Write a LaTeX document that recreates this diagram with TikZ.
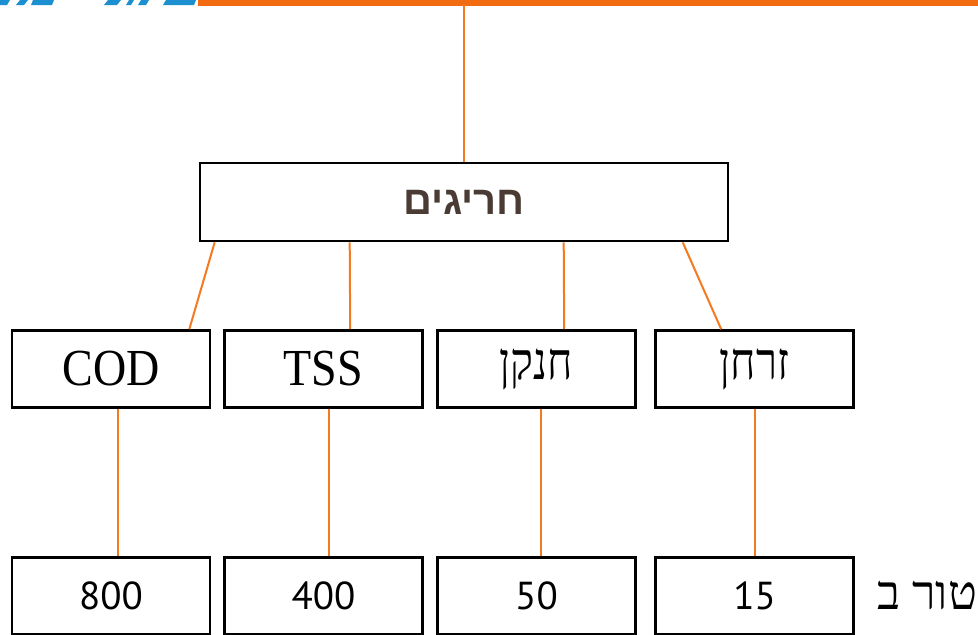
\documentclass[tikz,border=0pt]{standalone}
\usepackage{fontspec}
\usetikzlibrary{calc}
\TeXXeTstate=1
\setmainfont{Liberation Serif}
\newfontfamily\hebserif[Script=Hebrew]{Liberation Serif}
\newfontfamily\hebsans[Script=Hebrew]{Liberation Sans}
\newfontfamily\numfont{PT Sans}
\definecolor{conn}{HTML}{F47A20}
\definecolor{barorange}{HTML}{F26B10}
\definecolor{titlebrown}{HTML}{4A3B35}
\definecolor{logoblue}{HTML}{1B8FD0}
\newcommand{\tallA}[1]{\scalebox{1}[1.13]{#1}}
\newcommand{\tallH}[1]{\scalebox{0.93}[1.13]{#1}}
\tikzset{
  box/.style={draw=black, line width=2.6pt, fill=white, inner sep=0pt, minimum height=77pt},
  midbox/.style={box, minimum width=198pt, font=\fontsize{46}{50}\selectfont},
  numbox/.style={box, minimum width=198pt, font=\numfont\fontsize{39}{42}\selectfont},
  link/.style={draw=conn, line width=2pt},
}
\begin{document}
\begin{tikzpicture}[x=1pt,y=-1pt]
\useasboundingbox (0,0) rectangle (978,635);
% top bar and logo fragments
\fill[barorange] (198,0) rectangle (978,5.5);
\fill[logoblue] (0,0) -- (10,0) -- (7,5) -- (0,5) -- cycle;
\fill[logoblue] (20,0) -- (28,0) -- (24,5) -- (16,5) -- cycle;
\fill[logoblue] (33,0) -- (54,0) -- (52,5) -- (31,5) -- cycle;
\fill[logoblue] (108,0) -- (121,0) -- (117,5) -- (104,5) -- cycle;
\fill[logoblue] (129,0) -- (134,0) -- (131,5) -- (126,5) -- cycle;
\fill[logoblue] (141,0) -- (149,0) -- (146,5) -- (138,5) -- cycle;
\fill[logoblue] (166,0) -- (196,0) -- (194,5) -- (163,5) -- cycle;
\coordinate (top) at (464,5);
% central box
\node[box, minimum width=528pt, minimum height=78pt, font=\hebsans\bfseries\fontsize{40}{44}\selectfont, text=titlebrown] (c) at (464,202) {\beginR חריגים\endR};
% middle row
\node[midbox] (cod) at (111,369) {\tallA{COD}};
\node[midbox] (tss) at (323.5,369) {\tallA{TSS}};
\node[midbox, font=\hebserif\fontsize{46}{50}\selectfont] (n) at (536.5,369) {\tallH{\beginR חנקן\endR}};
\node[midbox, font=\hebserif\fontsize{46}{50}\selectfont] (p) at (754.5,369) {\tallH{\beginR זרחן\endR}};
% bottom row
\node[numbox] (b1) at (111,596) {800};
\node[numbox] (b2) at (323.5,596) {400};
\node[numbox] (b3) at (536.5,596) {50};
\node[numbox] (b4) at (754.5,596) {15};
\node[anchor=west, font=\hebserif\fontsize{48}{52}\selectfont, inner sep=0pt] (lbl) at (877,596) {\beginR טור ב\endR};
% connectors
\draw[link] (top) -- (c.north);
\draw[link] ($(c.south west)+(16,0)$) -- ($(cod.north east)+(-22,0)$);
\draw[link] ($(c.south west)+(151,0)$) -- ($(tss.north west)+(127,0)$);
\draw[link] ($(c.south west)+(365,0)$) -- ($(n.north west)+(128,0)$);
\draw[link] ($(c.south west)+(484,0)$) -- ($(p.north west)+(67,0)$);
\draw[link] ($(cod.south)+(7,0)$) -- ($(b1.north)+(7,0)$);
\draw[link] ($(tss.south)+(5.5,0)$) -- ($(b2.north)+(5.5,0)$);
\draw[link] ($(n.south)+(4.5,0)$) -- ($(b3.north)+(4.5,0)$);
\draw[link] (p.south) -- (b4.north);
\end{tikzpicture}
\end{document}
